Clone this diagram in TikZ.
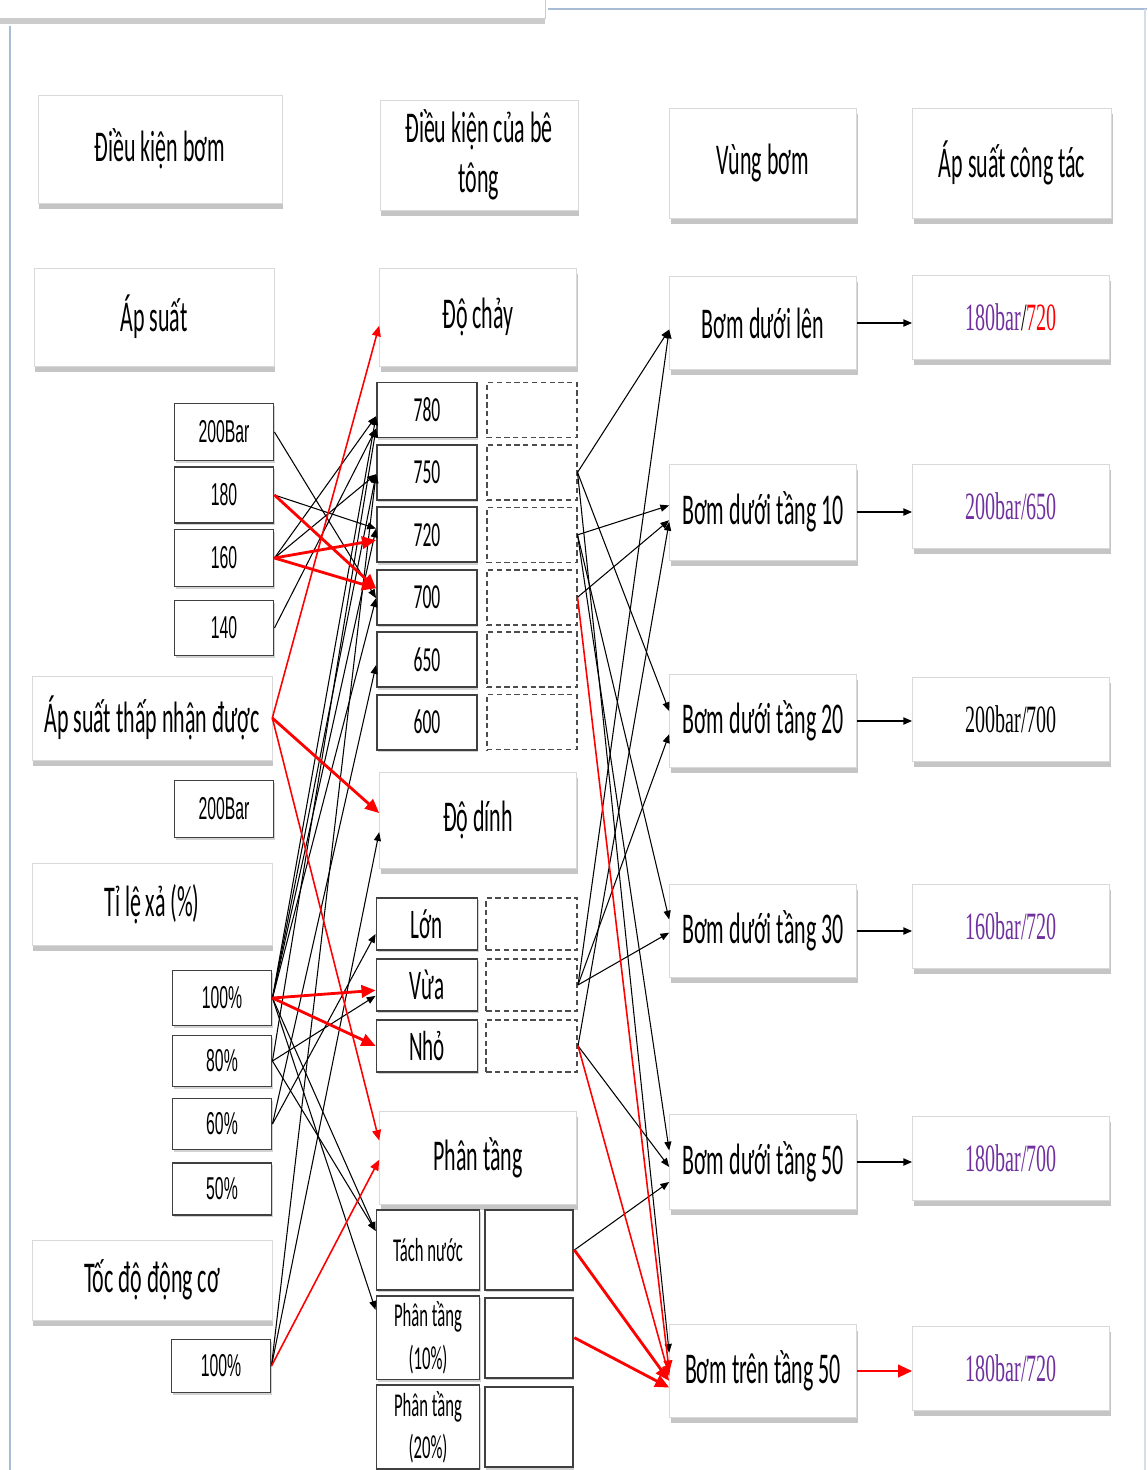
\documentclass[tikz,border=0pt]{standalone}
\usepackage{fontspec}
\setmainfont{Carlito}[FakeStretch=0.5]
\newfontfamily\numfont{Liberation Sans}[FakeStretch=0.5]
\newfontfamily\valfont{Liberation Serif}[FakeStretch=0.52]
\usetikzlibrary{arrows.meta,positioning,shadows}
\definecolor{valpurple}{HTML}{7030A0}
\definecolor{framebl}{HTML}{A9BCD6}

\begin{document}
\begin{tikzpicture}[x=0.02cm,y=-0.02cm,node distance=0.11cm and 0.16cm,
 >={Triangle[length=5pt,width=4pt]},
 head/.style={fill=white,draw=black!15,align=center,inner sep=2pt,
 drop shadow={shadow xshift=0.8pt,shadow yshift=-3.4pt,fill=black!45},
 font=\fontsize{25}{28.5}\selectfont},
 val/.style={draw=black!75,line width=1.1pt,fill=white,minimum width=1.98cm,
 drop shadow={shadow xshift=0.6pt,shadow yshift=-1.4pt,fill=black!35},
 font=\numfont\fontsize{18}{20}\selectfont},
 flow/.style={val,minimum width=2cm,minimum height=1.1cm,font=\fontsize{20}{23}\selectfont},
 blank/.style={draw=black!70,line width=0.9pt,densely dashed,minimum width=1.8cm,minimum height=1.1cm},
 res/.style={head,minimum width=3.94cm,minimum height=1.68cm,text=valpurple,
 font=\valfont\fontsize{22}{24}\selectfont},
 ln/.style={->,line width=0.6pt},
 main/.style={->,draw=red,line width=1.6pt,>={Triangle[length=8pt,width=7pt]}},
 mainthin/.style={->,draw=red,line width=0.9pt,>={Triangle[length=6pt,width=5pt]}}]
\useasboundingbox (0,0) rectangle (1147,1470);
% window frame
\path[fill=white,draw=black!20,drop shadow={shadow xshift=0pt,shadow yshift=-3.4pt,fill=black!40}] (-5,-5) rectangle (545,18);
\draw[framebl,line width=1pt] (548,9) -- (1147,9);
\draw[framebl,line width=1pt] (10,26) -- (10,1470);
\draw[framebl!50,line width=1.5pt] (1145,9) -- (1145,1470);

% column heads
\node[head,minimum width=4.88cm,minimum height=2.16cm] (hPump) at (160,149) {Điều kiện bơm};
\node[head,minimum width=3.96cm,minimum height=2.2cm] (hConc) at (479,155) {Điều kiện của bê\\tông};
\node[head,minimum width=3.74cm,minimum height=2.2cm] (hZone) at (763,163) {Vùng bơm};
\node[head,minimum width=3.98cm,minimum height=2.2cm] (hWork) at (1012,163) {Áp suất công tác};

% pump conditions
\node[head,minimum width=4.8cm,minimum height=1.96cm] (pres) at (154,317) {Áp suất};
\node[val,minimum height=1.14cm] (p200) at (224,432) {200Bar};
\node[val,minimum height=1.12cm] (p180) at (224,495) {180};
\node[val,minimum height=1.14cm] (p160) at (224,558) {160};
\node[val,minimum height=1.1cm] (p140) at (224,628) {140};
\node[head,minimum width=4.8cm,minimum height=1.68cm] (low) at (152,718) {Áp suất thấp nhận được};
\node[val,minimum height=1.14cm] (q200) at (224,809) {200Bar};
\node[head,minimum width=4.8cm,minimum height=1.64cm] (rate) at (152,904) {Tỉ lệ xả (\%)};
\node[val,minimum height=1.1cm] (t100) at (222,998) {100\%};
\node[val,minimum height=1.02cm] (t80) at (222,1061) {80\%};
\node[val,minimum height=1.02cm] (t60) at (222,1124) {60\%};
\node[val,minimum height=1.04cm] (t50) at (222,1189) {50\%};
\node[head,minimum width=4.8cm,minimum height=1.6cm] (speed) at (152,1280) {Tốc độ động cơ};
\node[val,minimum height=1.06cm] (m100) at (221,1366) {100\%};

% concrete conditions
\node[head,minimum width=3.94cm,minimum height=1.96cm] (flowh) at (478,317) {Độ chảy};
\node[flow] (c780) at (427,410) {780};
\node[flow,below=of c780] (c750) {750};
\node[flow,below=of c750] (c720) {720};
\node[flow,below=of c720] (c700) {700};
\node[flow,below=of c700] (c650) {650};
\node[flow,below=of c650] (c600) {600};
\node[blank,right=of c780] (e780) {};
\node[blank,right=of c750] (e750) {};
\node[blank,right=of c720] (e720) {};
\node[blank,right=of c700] (e700) {};
\node[blank,right=of c650] (e650) {};
\node[blank,right=of c600] (e600) {};
\node[head,minimum width=3.94cm,minimum height=1.92cm] (stick) at (478,820) {Độ dính};
\node[flow,minimum width=2.02cm,minimum height=1.04cm,font=\fontsize{24}{26}\selectfont] (lon) at (427,924) {Lớn};
\node[flow,minimum width=2.02cm,minimum height=1.04cm,font=\fontsize{24}{26}\selectfont,below=0.14cm of lon] (vua) {Vừa};
\node[flow,minimum width=2.02cm,minimum height=1.04cm,font=\fontsize{24}{26}\selectfont,below=0.14cm of vua] (nho) {Nhỏ};
\node[blank,minimum width=1.82cm,minimum height=1.04cm,right=0.14cm of lon] (elon) {};
\node[blank,minimum width=1.82cm,minimum height=1.04cm,right=0.14cm of vua] (evua) {};
\node[blank,minimum width=1.82cm,minimum height=1.04cm,right=0.14cm of nho] (enho) {};
\node[head,minimum width=3.94cm,minimum height=1.86cm] (segh) at (478,1158) {Phân tầng};
\node[flow,minimum width=2.06cm,minimum height=1.6cm,align=center,font=\fontsize{19}{24}\selectfont] (tach) at (428,1250) {Tách nước};
\node[flow,minimum width=2.06cm,minimum height=1.6cm,align=center,font=\fontsize{19}{24}\selectfont,below=0.08cm of tach] (p10) {Phân tầng\\(10\%)};
\node[flow,minimum width=2.06cm,minimum height=1.6cm,align=center,font=\fontsize{19}{24}\selectfont,below=0.08cm of p10] (p20) {Phân tầng\\(20\%)};
\node[flow,minimum width=1.76cm,minimum height=1.6cm,right=0.08cm of tach] (etach) {};
\node[flow,minimum width=1.76cm,minimum height=1.6cm,right=0.08cm of p10] (ep10) {};
\node[flow,minimum width=1.76cm,minimum height=1.6cm,right=0.08cm of p20] (ep20) {};

% pumping zones
\node[head,minimum width=3.74cm,minimum height=1.86cm] (z1) at (763,323) {Bơm dưới lên};
\node[head,minimum width=3.74cm,minimum height=1.92cm] (z2) at (763,512) {Bơm dưới tầng 10};
\node[head,minimum width=3.74cm,minimum height=1.86cm] (z3) at (763,721) {Bơm dưới tầng 20};
\node[head,minimum width=3.74cm,minimum height=1.86cm] (z4) at (763,931) {Bơm dưới tầng 30};
\node[head,minimum width=3.74cm,minimum height=1.9cm] (z5) at (763,1162) {Bơm dưới tầng 50};
\node[head,minimum width=3.74cm,minimum height=1.86cm] (z6) at (763,1371) {Bơm trên tầng 50};

% working pressure
\node[res] (w1) at (1011,317) {180bar\textcolor{black}{/}\textcolor{red}{720}};
\node[res] (w2) at (1011,506) {200bar/650};
\node[res,text=black] (w3) at (1011,719) {200bar/700};
\node[res] (w4) at (1011,926) {160bar/720};
\node[res] (w5) at (1011,1158) {180bar/700};
\node[res] (w6) at (1011,1368) {180bar/720};

% pump conditions -> concrete
\draw[ln] (p200.east) -- (c700.181);
\draw[ln] (p180.east) -- (c720.173);
\draw[ln] (p160.east) -- (c780.187);
\draw[ln] (p160.east) -- (c750.182);
\draw[ln] (p140.east) -- (c780.200);
\draw[ln] (t100.east) -- (c780.187);
\draw[ln] (t100.east) -- (c750.182);
\draw[ln] (t100.east) -- (c720.173);
\draw[ln] (t100.east) -- (c700.181);
\draw[ln] (t100.east) -- (tach.160);
\draw[ln] (t100.east) -- (p10.152);
\draw[ln] (t80.east) -- (c780.200);
\draw[ln] (t80.east) -- (vua.192);
\draw[ln] (t80.east) -- (tach.160);
\draw[ln] (t60.east) -- (c650.186);
\draw[ln] (t60.east) -- (lon.191);
\draw[ln] (m100.east) -- (c750.182);
\draw[ln] (m100.east) -- (stick.187);
\draw[main] (p180.east) -- (c700.170);
\draw[main] (p160.east) -- (c720.186);
\draw[main] (p160.east) -- (c700.170);
\draw[mainthin] (low.east) -- (flowh.185);
\draw[main] (low.east) -- (stick.176);
\draw[mainthin] (low.east) -- (segh.170);
\draw[main] (t100.east) -- (vua.186);
\draw[main] (t100.east) -- (nho.180);
\draw[mainthin] (m100.east) -- (segh.181);

% concrete -> zones
\draw[ln] (e750.east) -- (z1.184);
\draw[ln] (evua.east) -- (z1.184);
\draw[ln] (e720.east) -- (z2.176);
\draw[ln] (e700.east) -- (z2.185);
\draw[ln] (enho.east) -- (z2.186);
\draw[ln] (e750.east) -- (z3.174);
\draw[ln] (evua.east) -- (z3.188);
\draw[ln] (e720.east) -- (z4.173);
\draw[ln] (evua.east) -- (z4.181);
\draw[ln] (e720.east) -- (z5.173);
\draw[ln] (enho.east) -- (z5.183);
\draw[ln] (etach.east) -- (z5.192);
\draw[ln] (e750.east) -- (z6.169);
\draw[mainthin] (e700.east) -- (z6.180);
\draw[mainthin] (enho.east) -- (z6.183);
\draw[main] (etach.east) -- (z6.186);
\draw[main] (ep10.east) -- (z6.190);

% zones -> pressure
\draw[ln,line width=1pt] (z1.east) -- (z1.east -| w1.west);
\draw[ln,line width=1pt] (z2.east) -- (z2.east -| w2.west);
\draw[ln,line width=1pt] (z3.east) -- (z3.east -| w3.west);
\draw[ln,line width=1pt] (z4.east) -- (z4.east -| w4.west);
\draw[ln,line width=1pt] (z5.east) -- (z5.east -| w5.west);
\draw[main] (z6.east) -- (z6.east -| w6.west);
\end{tikzpicture}
\end{document}
